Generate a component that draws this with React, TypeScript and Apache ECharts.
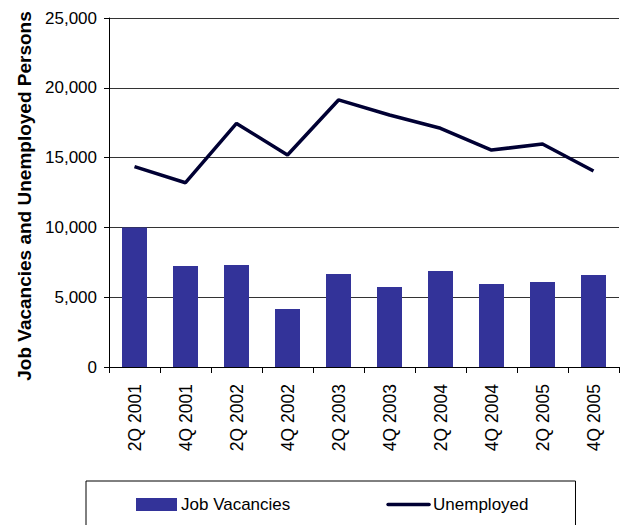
import React, { useEffect, useRef } from "react";
import * as echarts from "echarts";

const categories = [
  "2Q 2001", "4Q 2001", "2Q 2002", "4Q 2002", "2Q 2003",
  "4Q 2003", "2Q 2004", "4Q 2004", "2Q 2005", "4Q 2005",
];
const jobVacancies = [10000, 7230, 7300, 4150, 6660, 5730, 6880, 5950, 6090, 6590];
const unemployed = [14350, 13200, 17450, 15190, 19130, 18050, 17100, 15540, 15970, 14040];
const yTicks = { min: 0, max: 25000, interval: 5000 };
const yTitle = "Job Vacancies and Unemployed Persons";

const FONT = "'Liberation Sans', Arial, sans-serif";

export default function App() {
  const ref = useRef<HTMLDivElement>(null);
  useEffect(() => {
    if (!ref.current) return;
    const chart = echarts.init(ref.current, undefined, { renderer: "svg" });
    chart.setOption({
      animation: false,
      backgroundColor: "#ffffff",
      textStyle: { fontFamily: FONT, color: "#000" },
      grid: { left: 109, right: 2, top: 18, bottom: 158, containLabel: false },
      graphic: [
        {
          type: "text",
          x: 24,
          y: 196,
          rotation: Math.PI / 2,
          style: {
            text: yTitle,
            fontFamily: FONT,
            fontSize: 19,
            fontWeight: "bold",
            fill: "#000",
            align: "center",
            verticalAlign: "middle",
          },
        },
      ],
      legend: {
        left: 86,
        top: 481,
        orient: "horizontal",
        padding: [15, 47, 40, 50],
        borderColor: "#000",
        borderWidth: 1,
        itemWidth: 41,
        itemHeight: 13,
        itemGap: 96,
        textStyle: { fontFamily: FONT, fontSize: 17, color: "#000", padding: [0, 0, 0, -1] },
        data: [
          { name: "Job Vacancies", icon: "rect" },
          {
            name: "Unemployed",
            itemStyle: { opacity: 0 },
            lineStyle: { width: 3.5, color: "#000033", cap: "round" },
          },
        ],
      },
      xAxis: {
        type: "category",
        data: categories,
        boundaryGap: true,
        axisLine: { lineStyle: { color: "#000", width: 1 } },
        axisTick: { show: true, length: 6, lineStyle: { color: "#000" } },
        axisLabel: {
          rotate: 90,
          margin: 17,
          fontSize: 17.5,
          fontFamily: FONT,
          color: "#000",
        },
        splitLine: { show: false },
      },
      yAxis: {
        type: "value",
        min: yTicks.min,
        max: yTicks.max,
        interval: yTicks.interval,
        axisLine: { show: true, lineStyle: { color: "#000", width: 1 } },
        axisTick: { show: true, length: 5, lineStyle: { color: "#000" } },
        axisLabel: {
          margin: 12,
          fontSize: 17,
          fontFamily: FONT,
          color: "#000",
          formatter: (v: number) => v.toLocaleString("en-US"),
        },
        splitLine: { show: true, lineStyle: { color: "#333", width: 1 } },
      },
      series: [
        {
          name: "Job Vacancies",
          type: "bar",
          data: jobVacancies,
          barWidth: 25,
          itemStyle: { color: "#333399" },
        },
        {
          name: "Unemployed",
          type: "line",
          data: unemployed,
          symbol: "none",
          showSymbol: false,
          lineStyle: { color: "#000033", width: 3.5 },
          itemStyle: { color: "#000033" },
        },
      ],
    });
    return () => chart.dispose();
  }, []);
  return (
    <div
      ref={ref}
      style={{ position: "fixed", left: 0, top: 0, width: 621, height: 525 }}
    />
  );
}
